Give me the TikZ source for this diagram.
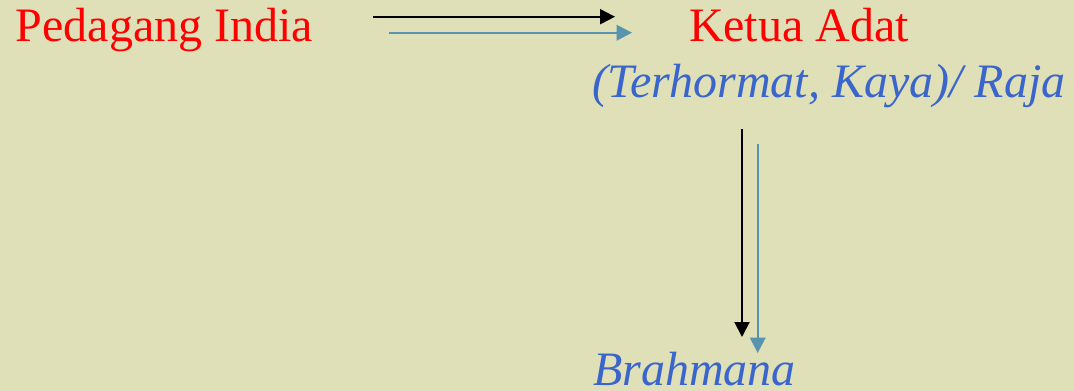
\documentclass[tikz,border=0pt]{standalone}
\usepackage{fontspec}
\setmainfont{Liberation Serif}
\usetikzlibrary{arrows.meta}
\definecolor{bg}{RGB}{223,223,184}
\definecolor{txtblue}{RGB}{58,102,204}
\definecolor{arrblue}{RGB}{88,148,174}
\tikzset{
  lbl/.style={inner sep=0pt, outer sep=0pt, anchor=base west, font=\fontsize{48}{56}\selectfont},
  redlbl/.style={lbl, text=red},
  bluelbl/.style={lbl, text=txtblue, font=\fontsize{48}{56}\selectfont\itshape},
  blackarr/.style={line width=2pt, draw=black, -{Triangle[length=15pt,width=15pt]}},
  bluearr/.style={line width=2.4pt, draw=arrblue, -{Triangle[length=15.5pt,width=15.5pt]}}
}
\begin{document}
\begin{tikzpicture}[x=1pt,y=-1pt]
  \fill[bg] (0,0) rectangle (1074,391);
  \useasboundingbox (0,0) rectangle (1074,391);
  \node[redlbl] (p) at (16,41) {Pedagang India};
  \node[redlbl] (k) at (689,41) {Ketua Adat};
  \node[bluelbl] (kt) at (592,97) {(Terhormat, Kaya)/ Raja};
  \node[bluelbl, text depth=0pt] (b) at (593,385) {Brahmana};
  \coordinate (h1s) at (373,16.7);
  \coordinate (h1e) at (615,16.7);
  \coordinate (h2s) at (389,32.7);
  \coordinate (h2e) at (632,32.7);
  \coordinate (v1s) at (742,129);
  \coordinate (v1e) at (742,337);
  \coordinate (v2s) at (757.7,144);
  \coordinate (v2e) at (757.7,353);
  \draw[blackarr] (h1s) -- (h1e);
  \draw[bluearr] (h2s) -- (h2e);
  \draw[blackarr] (v1s) -- (v1e);
  \draw[bluearr] (v2s) -- (v2e);
\end{tikzpicture}
\end{document}
